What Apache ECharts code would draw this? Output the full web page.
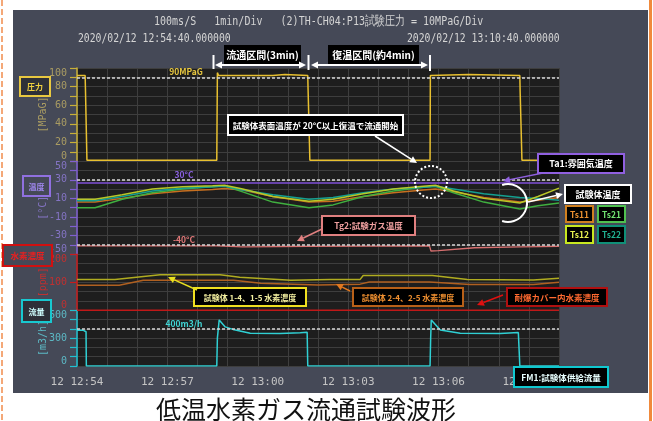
<!DOCTYPE html>
<html>
<head>
<meta charset="utf-8">
<script src="https://cdn.jsdelivr.net/npm/echarts@6/dist/echarts.min.js"></script>
<style>
  html, body { margin: 0; padding: 0; background: #fff; }
  #main { width: 653px; height: 421px; }
</style>
</head>
<body>
<div id="main"></div>
<script>
// time axis in minutes from 12:54:40
var timeLabels = ['12 12:54', '12 12:57', '12 13:00', '12 13:03', '12 13:06', '12 13:09'];

// pressure [MPaG]
var pressT = [0, 0.27, 0.28, 0.32, 0.33, 4.64, 4.66, 4.70, 6.5, 6.9, 7.66, 7.67, 7.72, 7.73, 11.72, 11.73, 13.0, 14.70, 14.71, 14.76, 14.77, 16];
var pressV = [92, 92, 78, 78, 1, 1, 95, 92, 92, 93, 92, 78, 78, 1, 1, 92, 93, 92, 75, 75, 1, 1];

// specimen temperatures [°C]
var tempT = [0, 0.6, 1.5, 2.5, 3.5, 4.5, 4.9, 5.5, 6.5, 7.7, 8.5, 9.5, 10.5, 11.5, 11.9, 12.5, 13.5, 14.7, 15.3, 16];
var ts11 = [6, 6, 10, 15, 18, 19.5, 20.5, 19, 12, 6, 7, 12, 16, 19, 20, 17, 11, 6, 8, 11];
var ts12 = [9, 9, 14, 20, 22.5, 23.5, 24, 20, 12, 7, 9, 15, 20, 23, 24, 18, 10, 5, 12, 21];
var ts21 = [0, 0, 9, 16, 20, 22.5, 23.5, 17, 6, 0, 3, 12, 18, 22, 23, 16, 6, -1.5, 2, 5];
var ts22 = [7.5, 7.5, 12, 18, 21, 22.5, 23, 19, 14, 9, 11, 16, 20, 22, 23, 20, 15, 11, 10, 8];
var ta1 = [26.5, 26.5, 26.5, 26.5, 26.4, 26.5, 26.5, 26.4, 26.5, 26.5, 26.5, 26.4, 26.5, 26.5, 26.5, 26.4, 26.5, 26.5, 26.5, 26.5];

// test gas temperature [°C]
var tg2T = [0, 4.65, 4.70, 5.5, 7.7, 11.70, 11.75, 12.0, 13.2, 14.7, 16];
var tg2V = [-41, -41, -42.5, -42, -41.5, -41, -46.5, -46, -43, -42, -41.5];

// hydrogen concentration
var h2aT = [0, 1.26, 2.76, 4.75, 5.4, 7.1, 8.4, 9.4, 9.5, 11.8, 12.96, 15.15, 16];
var h2aV = [110, 110, 127, 127, 118, 107, 110, 110, 124, 124, 110, 108, 114];
var h2bT = [0, 1.4, 2.2, 5.2, 6.1, 8.0, 9.4, 9.7, 11.7, 13.05, 15.15, 16];
var h2bV = [89, 89, 107, 107, 96, 90, 93, 101, 101, 92, 92, 100];
var h2cT = [0, 16];
var h2cV = [0, 0];

// supply flow [m3/h]
var flowT = [0, 0.2, 0.21, 0.3, 0.31, 4.64, 4.66, 4.72, 4.92, 5.18, 5.75, 6.74, 7.41, 7.64, 7.66, 11.72, 11.74, 11.76, 12.06, 12.72, 14.05, 14.65, 14.70, 16];
var flowV = [385, 385, 368, 368, 0, 0, 300, 495, 420, 393, 352, 348, 358, 362, 0, 0, 300, 495, 386, 352, 350, 360, 0, 0];

var pressTicks = [0, 20, 40, 60, 80, 100];
var tempTicks = [-50, -30, -10, 10, 30, 50];
var h2Ticks = [0, 100, 200];
var flowTicks = [0, 300, 600];

function pts(ts, vs) {
  return ts.map(function (t, i) { return [t, vs[i]]; });
}

var chart = echarts.init(document.getElementById('main'));

var L = 77, T = 68, W = 482, H = 298, D = H / 32;
var MONO = 'DejaVu Sans Mono';
var JP = "'Noto Sans CJK JP'";

function xAx(grid, extra) {
  var a = {
    type: 'value', gridIndex: grid, min: 0, max: 16, interval: 1,
    axisLine: { show: false }, axisTick: { show: false },
    axisLabel: { show: false }, splitLine: { show: false }
  };
  return Object.assign(a, extra || {});
}

function yAx(grid, min, max, step, shown, color, labelColor, name) {
  return {
    type: 'value', gridIndex: grid, min: min, max: max, interval: step,
    splitLine: { show: false },
    axisLine: { show: true, lineStyle: { color: color, width: 1.5 } },
    axisTick: { show: true, length: 7, lineStyle: { color: color, width: 1.2 } },
    axisLabel: {
      color: labelColor, fontFamily: MONO, fontSize: 10, margin: 10,
      showMinLabel: true, showMaxLabel: true,
      verticalAlignMinLabel: 'bottom', verticalAlignMaxLabel: 'top',
      formatter: function (v) { return shown.indexOf(v) >= 0 ? String(v) : ''; }
    },
    name: name, nameLocation: 'middle', nameGap: 29, nameMoveOverlap: false,
    nameTextStyle: { color: labelColor, fontFamily: MONO, fontSize: 10 }
  };
}

function line(name, xi, data, color, w) {
  return {
    name: name, type: 'line', xAxisIndex: xi, yAxisIndex: xi,
    data: data, showSymbol: false, symbol: 'none',
    lineStyle: { color: color, width: w || 1.5 }, itemStyle: { color: color }
  };
}

function refLine(vals) {
  return {
    silent: true, symbol: 'none', label: { show: false }, animation: false,
    lineStyle: { color: '#d8d8d8', type: [3, 2], width: 1.6 },
    data: vals.map(function (v) { return { yAxis: v }; })
  };
}

// annotation helpers
function box(x, y, w, h, stroke, text, color, fill, fs) {
  return [
    { type: 'rect', z: 100, shape: { x: x, y: y, width: w, height: h },
      style: { fill: fill || '#000', stroke: stroke, lineWidth: 2 } },
    { type: 'text', z: 101, x: x + w / 2, y: y + h / 2 + 0.5,
      style: { text: text, fill: color, font: 'bold ' + (fs || 9) + 'px ' + JP,
        align: 'center', verticalAlign: 'middle', textAlign: 'center', textVerticalAlign: 'middle' } }
  ];
}

function arrow(x1, y1, x2, y2, color, lw) {
  var a = Math.atan2(y2 - y1, x2 - x1), hl = 7, hw = 3.5;
  var bx = x2 - hl * Math.cos(a), by = y2 - hl * Math.sin(a);
  var px = -Math.sin(a) * hw, py = Math.cos(a) * hw;
  return [
    { type: 'line', z: 100, shape: { x1: x1, y1: y1, x2: bx, y2: by }, style: { stroke: color, lineWidth: lw || 1.5 } },
    { type: 'polygon', z: 100, shape: { points: [[x2, y2], [bx + px, by + py], [bx - px, by - py]] }, style: { fill: color } }
  ];
}

function txt(x, y, text, color, font, align, sx) {
  return { type: 'text', z: 100, x: x, y: y, scaleX: sx || 1,
    style: { text: text, fill: color, font: font, align: align || 'center', verticalAlign: 'middle',
      textAlign: align || 'center', textVerticalAlign: 'middle' } };
}

function vline(x, y1, y2, color, lw, dash) {
  return { type: 'line', z: 100, shape: { x1: x, y1: y1, x2: x, y2: y2 },
    style: { stroke: color, lineWidth: lw, lineDash: dash || null } };
}

var headFont = '13px ' + MONO;
var g = [];
g.push({ type: 'rect', z: -10, shape: { x: 13, y: 10, width: 635, height: 383 }, style: { fill: '#454957' } });
g.push(vline(2, 0, 421, '#f4a878', 2, [6, 3]));
g.push(vline(650.5, 0, 421, '#f08a3c', 3));
g.push(txt(154, 22, '100ms/S   1min/Div   (2)TH-CH04:P13試験圧力 = 10MPaG/Div', '#d4d4d4', headFont, 'left', 0.77));
g.push(txt(78, 39, '2020/02/12 12:54:40.000000', '#d4d4d4', headFont, 'left', 0.75));
g.push(txt(407, 39, '2020/02/12 13:10:40.000000', '#d4d4d4', headFont, 'left', 0.75));
g.push(txt(306, 409, '低温水素ガス流通試験波形', '#111', '25px ' + JP));

// interval markers
g = g.concat(box(225, 46, 75, 17, '#000', '流通区間(3min)', '#fff', '#000', 10));
g = g.concat(box(329, 46, 89, 17, '#000', '復温区間(約4min)', '#fff', '#000', 10));
g.push(vline(213.5, 55, 69, '#fff', 2));
g.push(vline(308.5, 55, 70, '#fff', 2));
g.push(vline(430, 55, 71, '#fff', 2));
g = g.concat(arrow(260, 65, 215, 65, '#fff', 2), arrow(260, 65, 306, 65, '#fff', 2));
g = g.concat(arrow(370, 65, 311, 65, '#fff', 2), arrow(370, 65, 428, 65, '#fff', 2));

// reference line labels
var lab = 'bold 8.5px ' + JP;
g.push(txt(186, 72, '90MPaG', '#e8c840', lab));
g.push(txt(184, 175, '30°C', '#8a60e0', lab));
g.push(txt(184, 240, '-40°C', '#e07878', lab));
g.push(txt(184, 324, '400m3/h', '#40d4d4', lab));

// callouts
g = g.concat(box(228, 115, 175, 20, '#fff', '試験体表面温度が 20°C以上復温で流通開始', '#fff', '#000', 8.5));
g = g.concat(arrow(375, 136, 417, 163, '#fff', 1.5));
g.push({ type: 'circle', z: 100, shape: { cx: 431, cy: 182, r: 16 }, style: { fill: null, stroke: '#fff', lineWidth: 2, lineDash: [2, 2] } });
g = g.concat(box(538, 154, 86, 19, '#9060e0', 'Ta1:雰囲気温度', '#fff', '#000', 9));
g = g.concat(arrow(543, 173, 503, 181, '#9060e0', 1.5));
g.push({ type: 'arc', z: 100, shape: { cx: 508, cy: 203, r: 19, startAngle: -Math.PI * 0.6, endAngle: Math.PI * 0.6, clockwise: true },
  style: { stroke: '#fff', lineWidth: 2, fill: null } });
g = g.concat(arrow(528, 202, 563, 194, '#fff', 1.5));
g = g.concat(box(565, 185, 66, 18, '#fff', '試験体温度', '#fff', '#000', 9));
g = g.concat(box(566, 206, 27, 16, '#d08020', 'Ts11', '#e89030', '#000', 8.5));
g = g.concat(box(598, 206, 27, 16, '#50c050', 'Ts21', '#70e070', '#000', 8.5));
g = g.concat(box(566, 226, 27, 17, '#c8e820', 'Ts12', '#e8f050', '#000', 8.5));
g = g.concat(box(598, 226, 27, 17, '#109078', 'Ts22', '#20b090', '#000', 8.5));
g = g.concat(box(322, 216, 93, 19, '#e08080', 'Tg2:試験ガス温度', '#f0a0a0', '#000', 8.5));
g = g.concat(arrow(322, 229, 297, 241, '#e08080', 1.5));
g = g.concat(box(194, 288, 112, 18, '#f0e020', '試験体 1-4、1-5 水素濃度', '#f4f0a0', '#000', 8));
g = g.concat(arrow(197, 290, 168, 277, '#e8e020', 1.5));
g = g.concat(box(353, 288, 110, 18, '#b86018', '試験体 2-4、2-5 水素濃度', '#f09030', '#000', 8));
g = g.concat(arrow(350, 291, 336, 284, '#e07820', 1.5));
g = g.concat(box(507, 288, 100, 18, '#b01010', '耐爆カバー内水素濃度', '#ff6a30', '#000', 8.5));
g = g.concat(arrow(503, 295, 477, 305, '#e01010', 1.5));
g = g.concat(box(514, 367, 94, 20, '#10c8d0', 'FM1:試験体供給流量', '#e8ffff', '#000', 8.5));

// channel tags
g = g.concat(box(20, 77, 30, 19, '#e8c840', '圧力', '#f0d040', '#2e3038', 8));
g = g.concat(box(23, 176, 27, 20, '#9070e0', '温度', '#a088f0', '#454957', 8));
g = g.concat(box(3, 245, 49, 21, '#d01010', '水素濃度', '#e82020', '#454957', 8.5));
g = g.concat(box(22, 300, 29, 22, '#18c8d0', '流量', '#d0ffff', '#2e3038', 8));

var option = {
  animation: false,
  graphic: { elements: g },
  grid: [
    { left: L, top: T, width: W, height: H, show: true, backgroundColor: '#1e1e1e', borderWidth: 0 },
    { left: L, top: T, width: W, height: D * 10 },
    { left: L, top: T + D * 10, width: W, height: D * 10 },
    { left: L, top: T + D * 20, width: W, height: D * 6 },
    { left: L, top: T + D * 26, width: W, height: D * 6 }
  ],
  xAxis: [
    xAx(0, { splitLine: { show: true, lineStyle: { color: '#3e3e3e', width: 1 } } }),
    xAx(1), xAx(2), xAx(3),
    xAx(4, {
      interval: 3,
      axisLabel: {
        show: true, color: '#c4c4c4', fontFamily: MONO, fontSize: 11, margin: 11, showMaxLabel: false,
        formatter: function (v) { return v % 3 === 0 && timeLabels[v / 3] ? timeLabels[v / 3] : ''; }
      }
    })
  ],
  yAxis: [
    { type: 'value', gridIndex: 0, min: 0, max: 32, interval: 1,
      axisLine: { show: false }, axisTick: { show: false }, axisLabel: { show: false },
      splitLine: { show: true, lineStyle: { color: '#3e3e3e', width: 1 } } },
    yAx(1, 0, 100, 10, pressTicks, '#c8b038', '#aa9c62', '[MPaG]'),
    yAx(2, -50, 50, 10, tempTicks, '#8060d0', '#8474c4', '[°C]'),
    yAx(3, 0, 200, 100, h2Ticks, '#c81c1c', '#c03030', '[ppm]'),
    yAx(4, 0, 600, 100, flowTicks, '#20c0d0', '#5cb8c4', '[m3/h]')
  ],
  series: [
    Object.assign(line('P13試験圧力', 1, pts(pressT, pressV), '#e8c030', 1.5), { markLine: refLine([90]) }),
    Object.assign(line('Ta1', 2, pts(tempT, ta1), '#8050d8', 1.5), { markLine: refLine([30, -40]) }),
    line('Tg2', 2, pts(tg2T, tg2V), '#d87070', 1.3),
    line('Ts11', 2, pts(tempT, ts11), '#c87020', 1.5),
    line('Ts21', 2, pts(tempT, ts21), '#40b040', 1.5),
    line('Ts22', 2, pts(tempT, ts22), '#14a090', 1.5),
    line('Ts12', 2, pts(tempT, ts12), '#b8c828', 1.5),
    line('耐爆カバー内', 3, pts(h2cT, h2cV), '#c01818', 1.5),
    line('試験体2-4,2-5', 3, pts(h2bT, h2bV), '#b06020', 1.5),
    line('試験体1-4,1-5', 3, pts(h2aT, h2aV), '#b0ac20', 1.5),
    Object.assign(line('FM1', 4, pts(flowT, flowV), '#30d0d4', 1.5), { markLine: refLine([400]) })
  ]
};

chart.setOption(option);
</script>
</body>
</html>
